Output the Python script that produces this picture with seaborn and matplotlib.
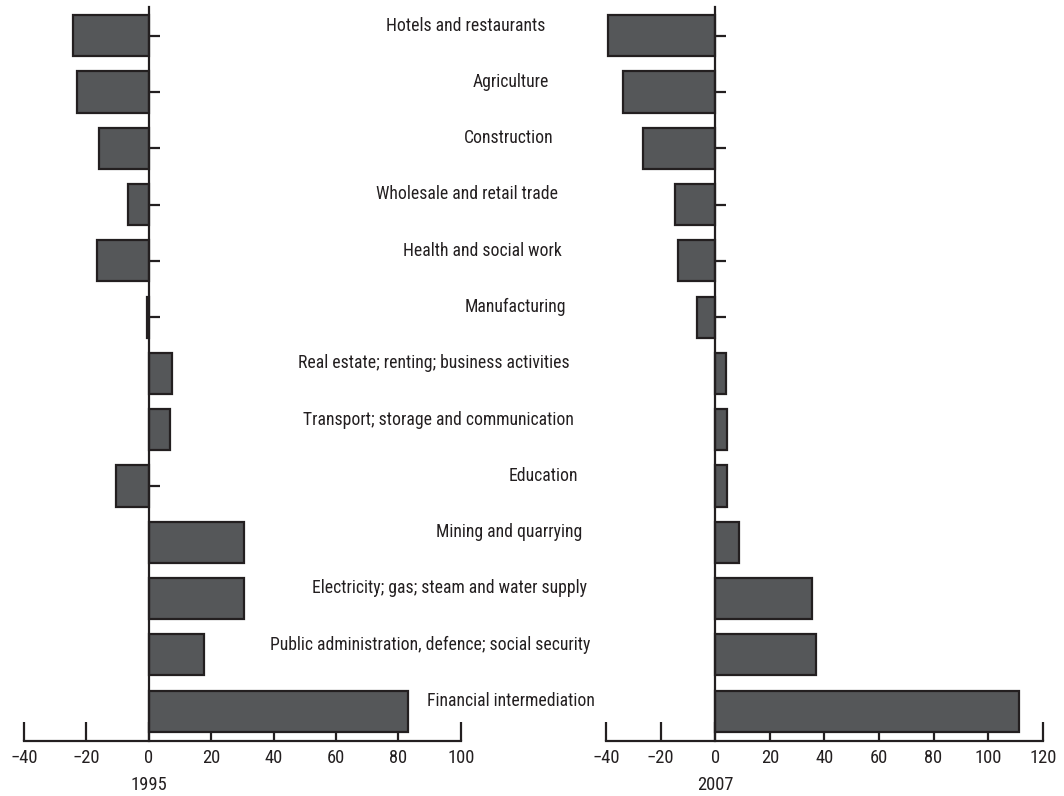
import matplotlib
matplotlib.use("Agg")
import matplotlib.pyplot as plt
import matplotlib.transforms as mtransforms
from matplotlib import font_manager as fm
import seaborn as sns
import pandas as pd

# ---- data ----
categories = [
    "Hotels and restaurants",
    "Agriculture",
    "Construction",
    "Wholesale and retail trade",
    "Health and social work",
    "Manufacturing",
    "Real estate; renting; business activities",
    "Transport; storage and communication",
    "Education",
    "Mining and quarrying",
    "Electricity; gas; steam and water supply",
    "Public administration, defence; social security",
    "Financial intermediation",
]
values_1995 = [-24.4, -23.1, -16.1, -6.7, -16.6, -0.5, 7.6, 6.8, -10.5, 30.5, 30.6, 17.8, 83.0]
values_2007 = [-39.3, -33.9, -26.4, -14.7, -13.6, -6.5, 3.8, 4.2, 4.4, 8.7, 35.6, 36.8, 111.4]
ticks_1995 = [-40, -20, 0, 20, 40, 60, 80, 100]
ticks_2007 = [-40, -20, 0, 20, 40, 60, 80, 100, 120]
years = ["1995", "2007"]

BAR = "#555759"
INK = "#231f20"

sns.set_theme(style="white")


def pick_font():
    for fam in ["Roboto Condensed", "Archivo Narrow", "Liberation Sans Narrow"]:
        try:
            fm.findfont(fm.FontProperties(family=fam), fallback_to_default=False)
            return dict(family=[fam, "DejaVu Sans"])
        except Exception:
            pass
    return dict(family=["DejaVu Sans"], stretch="condensed")


FONT = pick_font()
plt.rcParams["font.family"] = FONT["family"]
if "stretch" in FONT:
    plt.rcParams["font.stretch"] = FONT["stretch"]
plt.rcParams["axes.unicode_minus"] = True

W, H = 1064, 796
fig = plt.figure(figsize=(W / 100, H / 100), dpi=100)
renderer = fig.canvas.get_renderer()


def fit_size(text, target_px, start=12.0):
    t = fig.text(0, 0, text, fontsize=start)
    w = t.get_window_extent(renderer).width
    t.remove()
    return start * target_px / w


FS_LABEL = fit_size("Public administration, defence; social security", 318)
FS_TICK = fit_size("100", 27)

ax_bottom = 55 / H
ax_height = 734 / H
ax1 = fig.add_axes([24 / W, ax_bottom, 436.7 / W, ax_height])
ax2 = fig.add_axes([606 / W, ax_bottom, 436.7 / W, ax_height])

for ax, vals, ticks, year in [(ax1, values_1995, ticks_1995, years[0]),
                              (ax2, values_2007, ticks_2007, years[1])]:
    df = pd.DataFrame({"sector": categories, "value": vals})
    sns.barplot(data=df, x="value", y="sector", orient="h", color=BAR,
                saturation=1, edgecolor=INK, linewidth=1.6, width=0.73, ax=ax)
    ax.set_axisbelow(True)
    ax.set_xlim(ticks[0], ticks[-1])
    ax.set_xticks(ticks)
    ax.set_ylim(len(categories) - 1 + 0.53, -0.51)
    for s in ("top", "right"):
        ax.spines[s].set_visible(False)
    ax.spines["left"].set_position(("data", 0))
    for s in ("left", "bottom"):
        ax.spines[s].set_color(INK)
        ax.spines[s].set_linewidth(1.6)
    ax.tick_params(axis="y", direction="in", length=8, width=1.6, color=INK,
                   labelleft=False, left=True)
    ax.tick_params(axis="x", direction="in", length=14, width=1.6, color=INK,
                   pad=6, labelsize=FS_TICK, labelcolor=INK, bottom=True)
    ax.set_xlabel("")
    ax.set_ylabel("")
    zero_frac = (0 - ticks[0]) / (ticks[-1] - ticks[0])
    ax.text(zero_frac, -44 / 734, year, transform=ax.transAxes, ha="center",
            va="center", fontsize=FS_TICK, color=INK)

# category labels between the panels, right-aligned on a slight slant
trans = mtransforms.blended_transform_factory(ax1.transAxes, ax1.transData)
width_px = 436.7
for i, cat in enumerate(categories):
    xr = (545 - 24 + 4.17 * i) / width_px
    ax1.text(xr, i - 0.18, cat, transform=trans, ha="right", va="center",
             fontsize=FS_LABEL, color=INK, clip_on=False)

fig.savefig("out.png", dpi=100)
